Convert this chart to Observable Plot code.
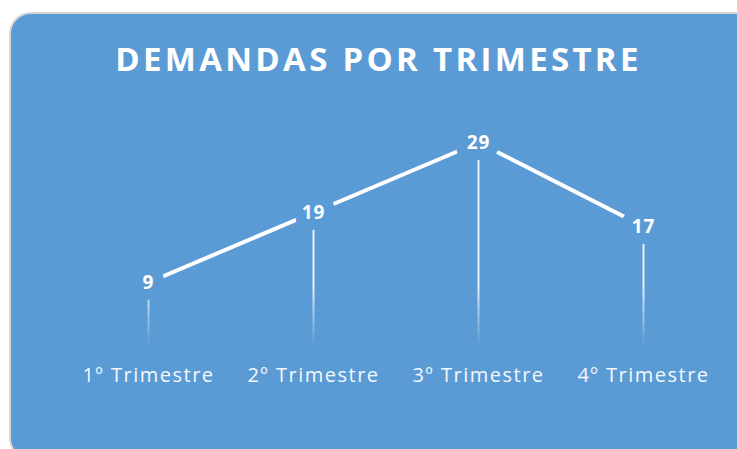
<!DOCTYPE html>
<html>
<head>
<meta charset="utf-8">
<script src="https://cdn.jsdelivr.net/npm/d3@7"></script>
<script src="https://cdn.jsdelivr.net/npm/@observablehq/plot@0.6"></script>
<style>
  html, body { margin: 0; padding: 0; background: #ffffff; width: 737px; height: 449px; overflow: hidden; }
  #card { position: absolute; left: 9px; top: 12px; width: 770px; height: 448px; box-sizing: border-box;
          background: #5B9BD5; border: 2px solid #d6d6d6; border-radius: 22px; }
  #title { position: absolute; left: 0; top: 42px; width: 757px; text-align: center; color: #ffffff;
           font-family: "Open Sans", sans-serif; font-weight: 700; font-size: 33px; line-height: 33px;
           letter-spacing: 3.3px; white-space: nowrap; }
  #chart { position: absolute; left: 0; top: 0; }
</style>
</head>
<body>
<div id="card"></div>
<div id="title">DEMANDAS POR TRIMESTRE</div>
<div id="chart"></div>
<script>
const quarters = ["1º Trimestre", "2º Trimestre", "3º Trimestre", "4º Trimestre"];
const demandas = [9, 19, 29, 17];

const data = quarters.map((q, i) => ({q, v: demandas[i]}));
const cardBlue = "#5B9BD5";

const plot = Plot.plot({
  width: 737,
  height: 449,
  marginLeft: 64,
  marginRight: 11,
  marginTop: 142,
  marginBottom: 104,
  style: {background: "transparent", fontFamily: "'Open Sans', sans-serif"},
  x: {type: "point", domain: quarters, padding: 0.5},
  y: {domain: [0, 29], axis: null},
  marks: [
    Plot.ruleX(data, {x: "q", y1: 0, y2: "v", stroke: "url(#dropGrad)", strokeWidth: 2}),
    Plot.line(data, {x: "q", y: "v", stroke: "#ffffff", strokeWidth: 4}),
    Plot.text(data, {x: "q", y: "v", text: d => String(d.v), fill: "#ffffff", stroke: cardBlue,
                     strokeWidth: 22, strokeLinejoin: "round", fontSize: 19, fontWeight: "bold"}),
    Plot.axisX({anchor: "bottom", label: null, tickSize: 0, tickPadding: 22, fontSize: 20, color: "#f4f8fc"})
  ]
});

const ys = plot.scale("y");
const y0 = ys.apply(0);
d3.select(plot).insert("defs", ":first-child").html(
  `<linearGradient id="dropGrad" gradientUnits="userSpaceOnUse" x1="0" y1="${y0}" x2="0" y2="${y0 - 60}">
     <stop offset="0" stop-color="#ffffff" stop-opacity="0"/>
     <stop offset="1" stop-color="#ffffff" stop-opacity="0.85"/>
   </linearGradient>`);
d3.select(plot).selectAll("[aria-label='x-axis tick label'] text").style("letter-spacing", "1.5px");
d3.select(plot).selectAll("[aria-label='text'] text").style("letter-spacing", "1px");
document.getElementById("chart").appendChild(plot);
</script>
</body>
</html>
